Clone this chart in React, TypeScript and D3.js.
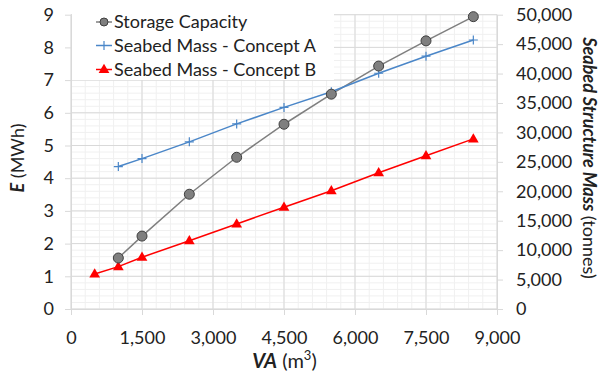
import React, {useEffect, useRef} from 'react';
import * as d3 from 'd3';

// VA (m3) values
const vaStorage = [1000, 1500, 2500, 3500, 4500, 5500, 6500, 7500, 8500];
const storageCapacity = [1.56, 2.23, 3.51, 4.64, 5.65, 6.57, 7.43, 8.2, 8.94];

const vaConceptA = [1000, 1500, 2500, 3500, 4500, 5500, 6500, 7500, 8500];
const massConceptA = [24200, 25550, 28400, 31450, 34250, 36900, 40050, 42950, 45700];

const vaConceptB = [500, 1000, 1500, 2500, 3500, 4500, 5500, 6500, 7500, 8500];
const massConceptB = [5950, 7200, 8800, 11600, 14450, 17300, 20100, 23150, 26050, 28900];

const xTicks = [0, 1500, 3000, 4500, 6000, 7500, 9000];
const yLeftTicks = [0, 1, 2, 3, 4, 5, 6, 7, 8, 9];
const yRightTicks = [0, 5000, 10000, 15000, 20000, 25000, 30000, 35000, 40000, 45000, 50000];

const legendNames = ['Storage Capacity', 'Seabed Mass - Concept A', 'Seabed Mass - Concept B'];

const FONT = 'Lato, "Open Sans", sans-serif';

const App = () => {
  const ref = useRef(null);

  useEffect(() => {
    document.body.style.margin = '0';
    const width = 601, height = 376;
    const margin = {top: 14.7, right: 104, bottom: 67, left: 71};

    const svg = d3.select(ref.current)
      .call(g => g.select('svg').remove())
      .append('svg')
      .attr('width', width)
      .attr('height', height)
      .style('font-family', FONT);

    const x = d3.scaleLinear().domain([0, 9000]).range([margin.left, width - margin.right]);
    const yL = d3.scaleLinear().domain([0, 9]).range([height - margin.bottom, margin.top]);
    const yR = d3.scaleLinear().domain([0, 50000]).range([height - margin.bottom, margin.top]);

    const y0 = yL(0), y1 = yL(9), x0 = x(0), x1 = x(9000);

    // minor grid
    const grid = svg.append('g');
    d3.range(0, 9000.1, 300).forEach(v => {
      grid.append('line').attr('x1', x(v)).attr('x2', x(v)).attr('y1', y0).attr('y2', y1)
        .attr('stroke', '#f0f0f0').attr('stroke-width', 1);
    });
    d3.range(0, 9.01, 0.2).forEach(v => {
      grid.append('line').attr('x1', x0).attr('x2', x1).attr('y1', yL(v)).attr('y2', yL(v))
        .attr('stroke', '#f0f0f0').attr('stroke-width', 1);
    });
    // major grid
    xTicks.forEach(v => {
      grid.append('line').attr('x1', x(v)).attr('x2', x(v)).attr('y1', y0).attr('y2', y1)
        .attr('stroke', '#d9d9d9').attr('stroke-width', 1);
    });
    yLeftTicks.forEach(v => {
      grid.append('line').attr('x1', x0).attr('x2', x1).attr('y1', yL(v)).attr('y2', yL(v))
        .attr('stroke', '#d9d9d9').attr('stroke-width', 1);
    });

    // axes
    const fmt = d3.format(',');
    const styleAxis = g => {
      g.select('.domain').attr('stroke', '#d9d9d9');
      g.selectAll('.tick line').attr('stroke', '#d9d9d9');
      g.selectAll('.tick text').attr('fill', '#222').style('font-size', '18px').style('font-family', FONT);
    };
    svg.append('g')
      .attr('transform', `translate(0,${y0})`)
      .call(d3.axisBottom(x).tickValues(xTicks).tickFormat(fmt).tickSize(6).tickSizeOuter(0).tickPadding(16))
      .call(styleAxis);
    svg.append('g')
      .attr('transform', `translate(${x0},0)`)
      .call(d3.axisLeft(yL).tickValues(yLeftTicks).tickFormat(d3.format('d')).tickSize(6).tickSizeOuter(0).tickPadding(11))
      .call(styleAxis);
    svg.append('g')
      .attr('transform', `translate(${x1},0)`)
      .call(d3.axisRight(yR).tickValues(yRightTicks).tickFormat(fmt).tickSize(6).tickSizeOuter(0).tickPadding(13))
      .call(styleAxis);

    // legend background
    svg.append('rect').attr('x', x0 + 1).attr('y', 3).attr('width', 262).attr('height', 77).attr('fill', '#fff');

    const line = (xs, ys, xsc, ysc) => d3.line()(xs.map((v, i) => [xsc(v), ysc(ys[i])]));

    // Storage capacity
    svg.append('path').attr('d', line(vaStorage, storageCapacity, x, yL))
      .attr('fill', 'none').attr('stroke', '#7f7f7f').attr('stroke-width', 1.5);
    // Concept A
    svg.append('path').attr('d', line(vaConceptA, massConceptA, x, yR))
      .attr('fill', 'none').attr('stroke', '#4a86c8').attr('stroke-width', 1.5);
    // Concept B
    svg.append('path').attr('d', line(vaConceptB, massConceptB, x, yR))
      .attr('fill', 'none').attr('stroke', '#ff0000').attr('stroke-width', 1.5);

    const circle = (g, cx, cy) => g.append('circle').attr('cx', cx).attr('cy', cy).attr('r', 5)
      .attr('fill', '#7f7f7f').attr('stroke', '#3f3f3f').attr('stroke-width', 1);
    const plus = (g, cx, cy) => g.append('path')
      .attr('d', `M${cx - 4.5},${cy}H${cx + 4.5}M${cx},${cy - 4.5}V${cy + 4.5}`)
      .attr('stroke', '#4a86c8').attr('stroke-width', 1.2);
    const tri = (g, cx, cy) => g.append('path')
      .attr('d', d3.symbol(d3.symbolTriangle, 50)())
      .attr('transform', `translate(${cx},${cy + 0.5})`)
      .attr('fill', '#ff0000');

    const marks = svg.append('g');
    vaConceptB.forEach((v, i) => tri(marks, x(v), yR(massConceptB[i])));
    vaConceptA.forEach((v, i) => plus(marks, x(v), yR(massConceptA[i])));
    vaStorage.forEach((v, i) => circle(marks, x(v), yL(storageCapacity[i])));

    // legend
    const lg = svg.append('g');
    const rowsY = [22, 45.5, 69.5];
    const lColors = ['#7f7f7f', '#4a86c8', '#ff0000'];
    legendNames.forEach((n, i) => {
      const cy = rowsY[i];
      lg.append('line').attr('x1', 96).attr('x2', 112).attr('y1', cy).attr('y2', cy)
        .attr('stroke', lColors[i]).attr('stroke-width', 1.5);
      if (i === 0) circle(lg, 104, cy).attr('r', 4);
      if (i === 1) plus(lg, 104, cy);
      if (i === 2) tri(lg, 104, cy);
      lg.append('text').attr('x', 114).attr('y', cy).attr('dy', '0.35em')
        .style('font-size', '18px').attr('fill', '#222').text(n);
    });

    // axis titles
    const xt = svg.append('text').attr('x', (x0 + x1) / 2 + 0.5).attr('y', 368)
      .attr('text-anchor', 'middle').style('font-size', '20px').attr('fill', '#222');
    xt.append('tspan').style('font-weight', 'bold').style('font-style', 'italic').text('VA');
    xt.append('tspan').text(' (m');
    xt.append('tspan').attr('dy', -8).style('font-size', '13px').text('3');
    xt.append('tspan').attr('dy', 8).text(')');

    const ylt = svg.append('text').attr('transform', `translate(24,158) rotate(-90)`)
      .attr('text-anchor', 'middle').style('font-size', '18px').attr('fill', '#222');
    ylt.append('tspan').style('font-weight', 'bold').style('font-style', 'italic').text('E');
    ylt.append('tspan').text(' (MWh)');

    const yrt = svg.append('text').attr('transform', `translate(583,158) rotate(90)`)
      .attr('text-anchor', 'middle').style('font-size', '18px').attr('fill', '#222');
    yrt.append('tspan').style('font-weight', 'bold').style('font-style', 'italic').text('Seabed Structure Mass');
    yrt.append('tspan').text(' (tonnes)');
  }, []);

  return <div ref={ref} />;
};

export default App;
